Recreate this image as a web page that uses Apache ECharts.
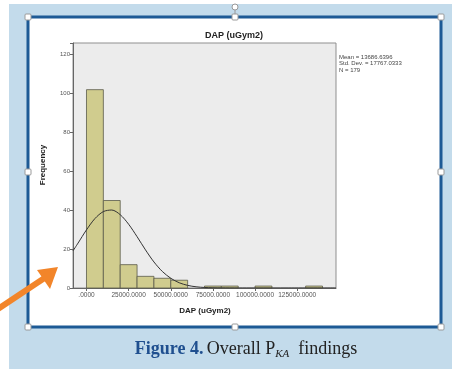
<!DOCTYPE html>
<html><head><meta charset="utf-8">
<script src="https://cdn.jsdelivr.net/npm/echarts@6/dist/echarts.min.js"></script>
<style>html,body{margin:0;padding:0;background:#fff}#c{width:452px;height:369px}</style>
</head><body><div id="c"></div>
<script>
// Histogram bins (DAP uGym2), bin width 10000
const binStarts = [0, 10000, 20000, 30000, 40000, 50000, 70000, 80000, 100000, 130000];
const binWidth = 10000;
const counts = [102, 45, 12, 6, 5, 4, 1, 1, 1, 1];
// Normal curve
const curveX = [-8000, -5000, 0, 5000, 10000, 15000, 20000, 25000, 30000, 35000, 40000, 45000, 50000, 55000, 60000, 65000, 70000, 75000, 80000, 90000, 100000, 120000, 148000];
const curveY = [19.1, 23.1, 29.9, 35.7, 39.3, 40.1, 37.7, 32.8, 26.4, 19.6, 13.4, 8.5, 5.0, 2.7, 1.35, 0.62, 0.27, 0.1, 0.04, 0, 0, 0, 0];
const xTicks = [0, 25000, 50000, 75000, 100000, 125000];
const yTicks = [0, 20, 40, 60, 80, 100, 120];
const statsLines = ['Mean = 13686.6396', 'Std. Dev. = 17767.0333', 'N = 179'];

const chart = echarts.init(document.getElementById('c'), null, {renderer: 'canvas'});
const handles = [[28,17],[235,17],[441,17],[28,327],[235,327],[441,327],[28,172],[441,172]];
const graphics = [
  {type:'rect', z:-100, shape:{x:9,y:4,width:443,height:365}, style:{fill:'#c3dbeb'}},
  {type:'rect', z:-99, shape:{x:28,y:17,width:413,height:310}, style:{fill:'#ffffff', stroke:'#1d5a95', lineWidth:3}},
  {type:'line', z:-98, shape:{x1:235,y1:8,x2:235,y2:17}, style:{stroke:'#999', lineWidth:1}},
  {type:'circle', z:-97, shape:{cx:235,cy:7,r:3}, style:{fill:'#fff', stroke:'#999', lineWidth:1}},
];
handles.forEach(h => graphics.push({type:'rect', z:50, shape:{x:h[0]-3,y:h[1]-3,width:6,height:6,r:1}, style:{fill:'#fff', stroke:'#9a9a9a', lineWidth:1}}));
graphics.push(
  {type:'line', z:60, shape:{x1:-2,y1:309,x2:46,y2:277}, style:{stroke:'#f2852a', lineWidth:6}},
  {type:'polygon', z:60, shape:{points:[[58,267],[37,270],[50,289]]}, style:{fill:'#f2852a'}},
  {type:'text', z:10, x:234, y:31, style:{text:'DAP (uGym2)', font:'bold 9px "Liberation Sans", Arial, sans-serif', fill:'#222', align:'center'}},
  {type:'text', z:10, x:339, y:54, style:{text:statsLines.join('\n'), font:'6px "Liberation Sans", Arial, sans-serif', lineHeight:6.5, fill:'#444', align:'left'}},
  {type:'text', z:10, x:205, y:307, style:{text:'DAP (uGym2)', font:'bold 8px "Liberation Sans", Arial, sans-serif', fill:'#222', align:'center'}},
  {type:'text', z:10, x:43, y:165, rotation:Math.PI/2, style:{text:'Frequency', font:'bold 8px "Liberation Sans", Arial, sans-serif', fill:'#222', align:'center', verticalAlign:'middle'}},
  {type:'text', z:10, x:246, y:339, style:{
    text:'{b|Figure 4.} {n|Overall P}{s|KA}{n|  findings}', align:'center',
    rich:{
      b:{font:'bold 18px "Liberation Serif", "Times New Roman", serif', fill:'#1f4f8f'},
      n:{font:'18px "Liberation Serif", "Times New Roman", serif', fill:'#222'},
      s:{font:'italic 11px "Liberation Serif", "Times New Roman", serif', fill:'#222', padding:[10,0,0,0]}
    }}}
);

chart.setOption({
  animation:false,
  backgroundColor:'#ffffff',
  grid:{left:73, right:116, top:43, bottom:81, show:true, backgroundColor:'#ececec', borderColor:'#8f8f8f', borderWidth:1},
  xAxis:{type:'value', min:-8000, max:148000,
    axisLine:{show:true, onZero:false, lineStyle:{color:'#666', width:1}},
    axisTick:{show:true, customValues:xTicks, length:3, lineStyle:{color:'#666'}},
    axisLabel:{customValues:xTicks, fontSize:6.5, color:'#555', margin:4, fontFamily:'Liberation Sans',
      formatter:v => (v === 0 ? '' : String(v)) + '.0000'},
    splitLine:{show:false}},
  yAxis:{type:'value', min:0, max:126, interval:20,
    axisLine:{show:true, onZero:false, lineStyle:{color:'#666', width:1}},
    axisTick:{show:true, length:3, lineStyle:{color:'#666'}},
    axisLabel:{fontSize:6, color:'#555', margin:3, fontFamily:'Liberation Sans',
      formatter:v => yTicks.includes(v) ? String(v) : ''},
    splitLine:{show:false}},
  graphic:{elements:graphics},
  series:[
    {type:'custom', z:3,
      data: binStarts.map((s,i) => [s, s + binWidth, counts[i]]),
      encode:{x:[0,1], y:2},
      renderItem:(params, api) => {
        const p0 = api.coord([api.value(0), api.value(2)]);
        const p1 = api.coord([api.value(1), 0]);
        return {type:'rect', shape:{x:p0[0], y:p0[1], width:p1[0]-p0[0], height:p1[1]-p0[1]},
          style:{fill:'#d0cc8e', stroke:'#5a5a4a', lineWidth:0.8}};
      }},
    {type:'line', z:4, smooth:0.3, symbol:'none', clip:true,
      data: curveX.map((x,i) => [x, curveY[i]]),
      lineStyle:{color:'#333', width:1}}
  ]
});
</script></body></html>
